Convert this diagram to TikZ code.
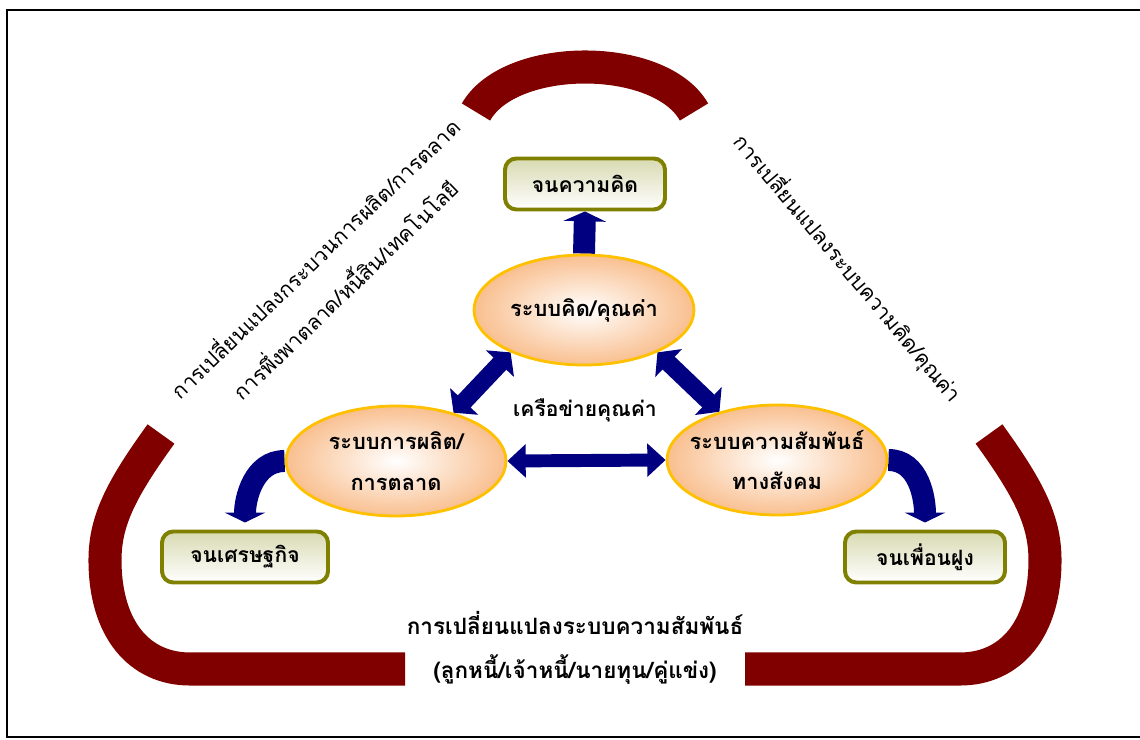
\documentclass[tikz,border=0pt]{standalone}
\usepackage{fontspec}
\newfontfamily\thaifont[Script=Thai]{Loma}
\usetikzlibrary{arrows.meta, shapes.geometric, backgrounds}
\definecolor{maroonband}{HTML}{800000}
\definecolor{navyarrow}{HTML}{000080}
\definecolor{goldline}{HTML}{FFC000}
\definecolor{peachfill}{HTML}{F9BF8F}
\definecolor{oliveline}{HTML}{7F7F00}
\definecolor{olivefill}{HTML}{D8DAB2}
\newcommand{\px}{0.025cm}

\begin{document}
\begin{tikzpicture}[
  x=\px, y=-\px,
  every node/.style={font=\thaifont\fontsize{15}{31}\selectfont},
  boldtext/.style={font=\thaifont\bfseries\fontsize{15}{30}\selectfont, align=center},
  sysell/.style={ellipse, draw=goldline, line width=2pt, shading=radial,
                 inner color=white, outer color=peachfill,
                 minimum width=220*\px, minimum height=110*\px,
                 inner xsep=-10pt, inner ysep=0pt, boldtext,
                 font=\thaifont\bfseries\fontsize{15.5}{29}\selectfont},
  poorbox/.style={draw=oliveline, line width=2.8pt, rounded corners=8pt,
                  top color=olivefill, bottom color=white,
                  minimum width=160*\px, minimum height=51*\px, boldtext},
  band/.style={draw=maroonband, line width=23.5pt},
  uparr/.style={draw=navyarrow, line width=15.6pt, -{Triangle[width=30pt,length=7pt]}},
  diagarr/.style={draw=navyarrow, line width=12.5pt,
                  arrows={Triangle[width=27pt,length=11pt]-Triangle[width=27pt,length=11pt]}},
  flatarr/.style={draw=navyarrow, line width=9.2pt,
                  arrows={Triangle[width=23pt,length=13pt]-Triangle[width=23pt,length=13pt]}},
  bendarr/.style={draw=navyarrow, line width=15.6pt, shorten >=5pt,
                  -{Triangle[width=28.5pt,length=7pt]}}
]
  \useasboundingbox (0,0) rectangle (1140,740);
  \draw[line width=1.4pt] (1140,10) -- (7,10) -- (7,737) -- (1140,737);

  \draw[band] (476,112) .. controls (510,52) and (660,52) .. (694,112);
  \draw[band] (161,434) .. controls (122,488) and (105,520) .. (105,560)
              .. controls (105,630) and (140,669) .. (190,669) -- (405,669);
  \draw[band] (989,434) .. controls (1028,488) and (1045,520) .. (1045,560)
              .. controls (1045,630) and (1010,669) .. (960,669) -- (745,669);

  \node[sysell] (thinksys) at (584,310) {ระบบคิด/คุณค่า};
  \node[sysell] (prodsys) at (396,461) {ระบบการผลิต/\\การตลาด};
  \node[sysell] (socsys) at (777,460) {ระบบความสัมพันธ์\\ทางสังคม};

  \node[poorbox] (poorthink) at (585,184) {จนความคิด};
  \node[poorbox, minimum width=166*\px] (poorecon) at (245,557) {จนเศรษฐกิจ};
  \node[poorbox] (poorfriend) at (925,557) {จนเพื่อนฝูง};

  \node[boldtext] (network) at (585,410) {เครือข่ายคุณค่า};
  \node[align=center, rotate=44] (prodchange) at (329,273)
    {การเปลี่ยนแปลงกระบวนการผลิต/การตลาด\\การพึ่งพาตลาด/หนี้สิน/เทคโนโลยี};
  \node[rotate=-50] (thinkchange) at (848,268) {การเปลี่ยนแปลงระบบความคิด/คุณค่า};
  \node[boldtext, font=\thaifont\bfseries\fontsize{16}{31}\selectfont] (socchange) at (575,648)
    {การเปลี่ยนแปลงระบบความสัมพันธ์\\(ลูกหนี้/เจ้าหนี้/นายทุน/คู่แข่ง)};

  \begin{pgfonlayer}{background}
    \draw[uparr] (thinksys.north) -- (poorthink.south);
    \draw[diagarr] (prodsys.40) -- (thinksys.210);
    \draw[diagarr] (socsys.140) -- (thinksys.330);
    \draw[flatarr] (prodsys.east) -- (socsys.west);
    \draw[bendarr] (prodsys.west) to[out=180, in=90] (poorecon.north);
    \draw[bendarr] (socsys.east) to[out=0, in=90] (poorfriend.north);
  \end{pgfonlayer}
\end{tikzpicture}
\end{document}
